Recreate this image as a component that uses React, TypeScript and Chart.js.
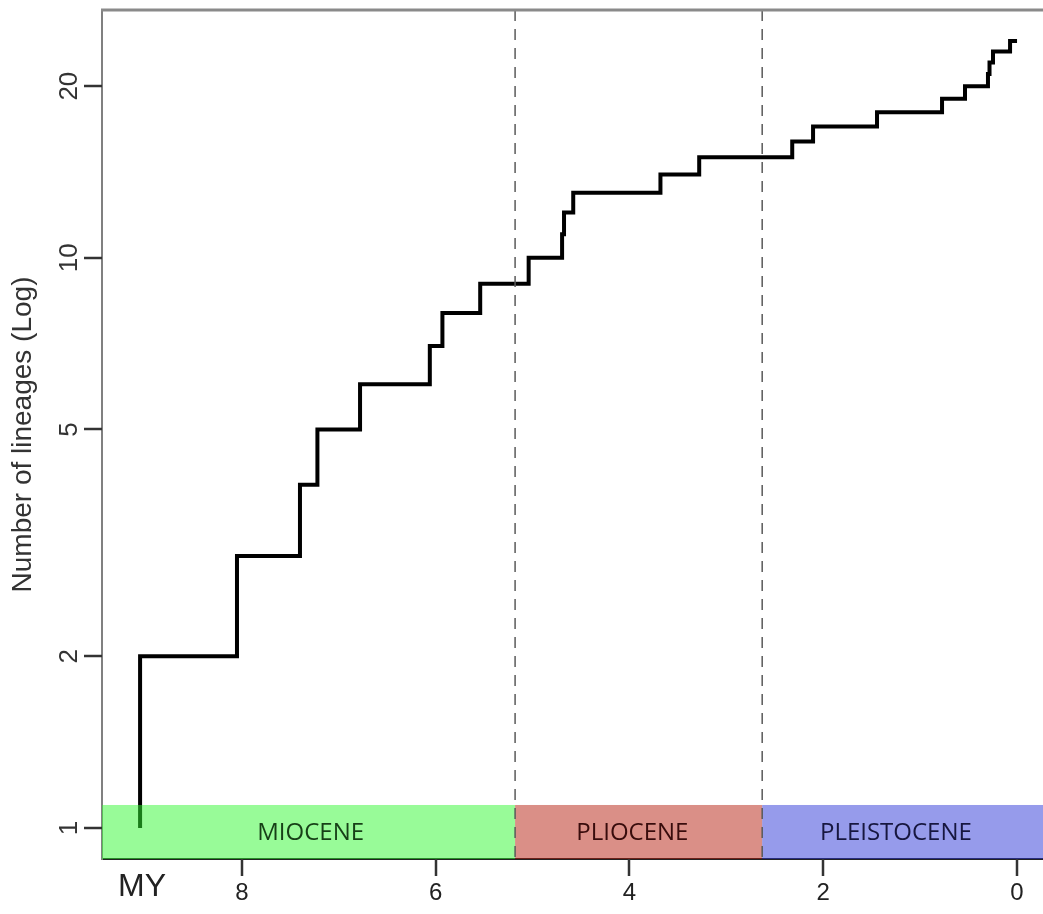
import React, { useEffect, useRef } from "react";
import { Chart, registerables } from "chart.js";

Chart.register(...registerables);

// Lineage-through-time data: time (MY before present) at which the count changes, and the new count
const branchTimes = [9.05, 9.05, 8.05, 7.4, 7.22, 6.78, 6.06, 5.93, 5.54, 5.04, 4.695, 4.675, 4.58, 3.68, 3.28, 2.32, 2.105, 1.445, 0.774, 0.537, 0.3, 0.284, 0.248, 0.072, 0];
const lineageCounts = [1, 2, 3, 4, 5, 6, 7, 8, 9, 10, 11, 12, 13, 14, 15, 16, 17, 18, 19, 20, 21, 22, 23, 24, 24];

const yTickValues = [1, 2, 5, 10, 20];
const xTickValues = [8, 6, 4, 2, 0];
const xUnitLabel = "MY";
const xUnitLabelAt = 9.03;

const epochNames = ["MIOCENE", "PLIOCENE", "PLEISTOCENE"];
const epochStarts = [23.03, 5.18, 2.63];
const epochEnds = [5.18, 2.63, -1];
const epochLabelAt = [7.29, 3.97, 1.25];
const epochBoundaries = [5.18, 2.63];

const epochFills = ["rgba(49,247,49,0.5)", "rgba(181,31,15,0.5)", "rgba(45,55,215,0.5)"];
const epochTextColors = ["#173f17", "#380c0c", "#17173f"];

const FONT = "'Liberation Sans', Arial, sans-serif";

const epochPlugin = {
  id: "epochs",
  afterDatasetsDraw(chart: any) {
    const { ctx, chartArea: ca, scales } = chart;
    const x = scales.x;
    const y = scales.y;
    ctx.save();
    ctx.beginPath();
    ctx.rect(ca.left, ca.top, ca.right - ca.left, ca.bottom - ca.top);
    ctx.clip();
    const bandTop = y.getPixelForValue(1.097);
    epochNames.forEach((name, i) => {
      const a = x.getPixelForValue(epochStarts[i]);
      const b = x.getPixelForValue(epochEnds[i]);
      const l = Math.max(Math.min(a, b), ca.left);
      const r = Math.min(Math.max(a, b), ca.right);
      ctx.fillStyle = epochFills[i];
      ctx.fillRect(l, bandTop, r - l, ca.bottom - bandTop);
      ctx.fillStyle = epochTextColors[i];
      ctx.font = "24px 'Open Sans', sans-serif";
      ctx.textAlign = "center";
      ctx.textBaseline = "middle";
      ctx.fillText(name, x.getPixelForValue(epochLabelAt[i]), (bandTop + ca.bottom) / 2 + 1);
    });
    ctx.strokeStyle = "#5a5a5a";
    ctx.lineWidth = 1.5;
    ctx.setLineDash([11, 8]);
    epochBoundaries.forEach((t) => {
      const px = x.getPixelForValue(t);
      ctx.beginPath();
      ctx.moveTo(px, ca.top);
      ctx.lineTo(px, ca.bottom);
      ctx.stroke();
    });
    ctx.restore();
  },
  afterDraw(chart: any) {
    const { ctx, chartArea: ca, scales } = chart;
    const x = scales.x;
    const y = scales.y;
    ctx.save();
    ctx.setLineDash([]);
    // top frame line
    ctx.strokeStyle = "#8a8a8a";
    ctx.lineWidth = 3;
    ctx.beginPath();
    ctx.moveTo(ca.left - 1, ca.top);
    ctx.lineTo(ca.right, ca.top);
    ctx.stroke();
    // y tick marks
    ctx.strokeStyle = "#333333";
    ctx.lineWidth = 2.5;
    for (const v of yTickValues) {
      const py = Math.round(y.getPixelForValue(v));
      ctx.beginPath();
      ctx.moveTo(ca.left - 18, py);
      ctx.lineTo(ca.left, py);
      ctx.stroke();
    }
    // x tick marks
    for (const v of xTickValues) {
      const px = Math.round(x.getPixelForValue(v));
      ctx.beginPath();
      ctx.moveTo(px, ca.bottom);
      ctx.lineTo(px, ca.bottom + 17);
      ctx.stroke();
    }
    ctx.restore();
  },
};

export default function App() {
  const canvasRef = useRef<HTMLCanvasElement | null>(null);

  useEffect(() => {
    if (!canvasRef.current) return;
    const chart = new Chart(canvasRef.current, {
      type: "line",
      data: {
        datasets: [
          {
            data: branchTimes.map((t, i) => ({ x: t, y: lineageCounts[i] })),
            stepped: "before",
            borderColor: "#000",
            borderWidth: 4,
            pointRadius: 0,
            fill: false,
            tension: 0,
          },
        ],
      },
      plugins: [epochPlugin],
      options: {
        responsive: false,
        animation: false,
        devicePixelRatio: 1,
        layout: { padding: { top: 10, left: 0, right: 0, bottom: 0 } },
        plugins: { legend: { display: false }, tooltip: { enabled: false } },
        scales: {
          x: {
            type: "linear",
            reverse: true,
            min: -0.464,
            max: 9.443,
            afterBuildTicks: (s: any) => {
              s.ticks = [...xTickValues.map((v) => ({ value: v })), { value: xUnitLabelAt }];
            },
            afterFit: (s: any) => {
              s.height = 55;
              s.paddingLeft = 0;
              s.paddingRight = 0;
            },
            grid: {
              display: true,
              drawOnChartArea: false,
              drawTicks: true,
              tickLength: 16,
              tickWidth: 2,
              tickColor: "rgba(0,0,0,0)",
            },
            border: { color: "#222", width: 2 },
            ticks: {
              autoSkip: false,
              minRotation: 0,
              maxRotation: 0,
              padding: 0,
              color: "#222",
              callback: (v: any) => (v === xUnitLabelAt ? xUnitLabel : String(v)),
              font: (c: any) =>
                c.tick && c.tick.value === xUnitLabelAt
                  ? { family: FONT, size: 32, lineHeight: 0.78 }
                  : { family: FONT, size: 24, lineHeight: 1.54 },
            },
          },
          y: {
            type: "logarithmic",
            min: 0.882,
            max: 27.2,
            afterBuildTicks: (s: any) => {
              s.ticks = yTickValues.map((v) => ({ value: v }));
            },
            afterFit: (s: any) => {
              s.width = 102;
              s.paddingTop = 0;
              s.paddingBottom = 0;
            },
            grid: {
              display: true,
              drawOnChartArea: false,
              drawTicks: true,
              tickLength: 17,
              tickWidth: 2,
              tickColor: "rgba(0,0,0,0)",
            },
            border: { color: "#808080", width: 2 },
            ticks: {
              minRotation: 90,
              maxRotation: 90,
              crossAlign: "center",
              padding: 1,
              color: "#333",
              font: { family: FONT, size: 26 },
              callback: (v: any) => String(v),
            },
            title: {
              display: true,
              text: "Number of lineages (Log)",
              color: "#333",
              font: { family: FONT, size: 28 },
              padding: { top: 6, bottom: 0 },
            },
          },
        },
      },
    } as any);
    return () => chart.destroy();
  }, []);

  return (
    <div
      style={{
        position: "fixed",
        left: 0,
        top: 0,
        width: 1043,
        height: 914,
        overflow: "hidden",
        background: "#fff",
      }}
    >
      <canvas ref={canvasRef} width={1062} height={914} style={{ display: "block" }} />
    </div>
  );
}
